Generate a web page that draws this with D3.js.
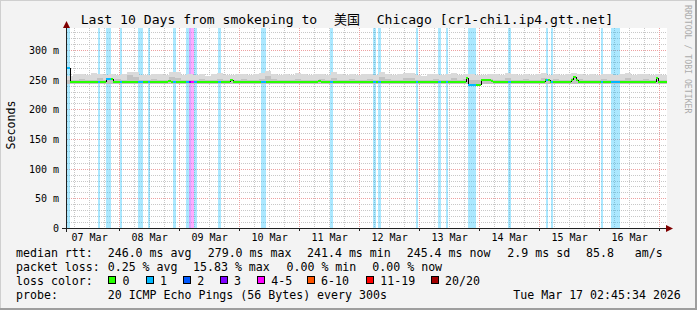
<!DOCTYPE html>
<html><head><meta charset="utf-8">
<script src="https://cdn.jsdelivr.net/npm/d3@7"></script>
<style>body{margin:0;background:#f3f3f3}svg{display:block}text{white-space:pre}</style>
</head><body>
<svg id="c" width="697" height="310"></svg>
<script>
// ---------- data ----------
const titleLeft = "Last 10 Days from smokeping to";
const titleMid = "美国";
const titleRight = "Chicago [cr1-chi1.ip4.gtt.net]";
const lossLevels = ["0","1","2","3","4-5","6-10","11-19","20/20"];
const lossColors = ["#26ff00","#00b8ff","#0059ff","#7e00ff","#ff00ff","#ff5500","#ff0000","#a10000"];
const yTicks = [0,50,100,150,200,250,300];
const yTickLabels = ["0","50 m","100 m","150 m","200 m","250 m","300 m"];
const dayTicks = ["03-07","03-08","03-09","03-10","03-11","03-12","03-13","03-14","03-15","03-16"];
const dayLabels = ["07 Mar","08 Mar","09 Mar","10 Mar","11 Mar","12 Mar","13 Mar","14 Mar","15 Mar","16 Mar"];

// loss periods (UTC, 2026) and loss level index
const lossStart = ["03-07 02:50","03-07 15:10","03-07 18:22","03-07 23:58","03-08 07:10","03-08 11:10","03-08 21:10",
  "03-09 02:22","03-09 03:34","03-09 04:22","03-09 05:34","03-09 15:10","03-10 08:22","03-11 11:58","03-12 05:10",
  "03-12 07:10","03-12 22:22","03-13 07:10","03-13 10:22","03-13 19:10","03-14 11:10","03-15 02:22","03-15 04:22",
  "03-16 00:22","03-16 04:22"];
const lossEnd = ["03-07 03:58","03-07 15:58","03-07 20:22","03-08 00:46","03-08 09:10","03-08 11:58","03-08 22:22",
  "03-09 03:34","03-09 04:22","03-09 05:34","03-09 06:46","03-09 16:22","03-10 10:22","03-11 13:10","03-12 06:22",
  "03-12 08:22","03-12 23:10","03-13 08:22","03-13 11:10","03-13 22:22","03-14 12:22","03-15 03:10","03-15 05:10",
  "03-16 01:10","03-16 07:58"];
const lossLevel = [1,1,1,1,1,1,1, 1,3,4,1,1,1,1,1, 1,1,1,1,1,1,1,1, 1,1];

// median rtt (ms), step values holding from each time to the next
const medianTimes = ["03-07 02:45","03-07 03:58","03-07 18:22","03-07 21:10","03-08 19:10","03-08 20:22","03-09 19:58",
  "03-09 21:10","03-11 07:10","03-11 08:22","03-13 18:22","03-13 19:10","03-14 00:22","03-14 04:22","03-14 05:10",
  "03-15 01:58","03-15 03:58","03-15 12:22","03-15 13:10","03-15 14:22","03-15 15:10","03-16 22:22","03-16 23:10"];
const medianValues = [270,246.5,252.5,246.5,248,246.5,250.5,
  246.5,248,246.5,253,242.2,249.8,248,246.5,
  251,246.5,251,254.5,250.5,246.5,253,246.5];

// smoke (ms), 2.4 h bins from the start of the graph
const smokeBottom = 244;
const smokeTop = [
257,260,261,259,262,260,258,261,259,260,
264,263,259,258,260,261,259,264,263,258,
260,259,261,257,260,262,259,258,260,261,
259,260,262,265,261,258,260,259,262,260,
258,260,261,259,263,260,258,261,259,260,
261,259,264,260,258,261,262,262,259,257,
260,261,258,260,262,259,261,260,258,259,
261,260,258,262,260,259,261,258,260,262,
259,261,258,260,262,260,259,261,258,260,
261,259,260,262,258,260,261,259,260,258];
const smokeMid = [
250,251,252,250,251,253,250,251,252,251,
258,256,251,250,252,251,250,255,254,251,
251,250,252,250,251,252,251,250,251,252,
251,250,252,257,252,250,251,250,252,251,
250,251,252,250,253,251,250,252,251,250,
252,251,256,252,250,251,253,254,251,250,
251,252,250,251,253,250,252,251,250,251,
252,251,250,253,251,250,252,250,251,253,
251,252,250,251,254,252,250,251,250,252,
251,250,251,253,250,251,252,250,251,250];

const legendRtt = ["median rtt:","246.0 ms avg","279.0 ms max","241.4 ms min","245.4 ms now","2.9 ms sd","85.8   am/s"];
const legendLoss = ["packet loss:","0.25 % avg","15.83 % max","0.00 % min","0.00 % now"];
const probeText = ["probe:","20 ICMP Echo Pings (56 Bytes) every 300s","Tue Mar 17 02:45:34 2026"];

// ---------- helpers ----------
const T = s => { const [md,hm]=s.split(" "); const [mo,d]=md.split("-").map(Number);
  const [h,mi]=(hm||"00:00").split(":").map(Number); return new Date(Date.UTC(2026,mo-1,d,h,mi,0)); };
const tStart = new Date(Date.UTC(2026,2,7,2,45,34));
const tEnd = new Date(Date.UTC(2026,2,17,2,45,34));

const svg = d3.select("#c");
const MONO = "DejaVu Sans Mono";
const x = d3.scaleUtc().domain([tStart,tEnd]).range([66.5,666.5]);
const y = d3.scaleLinear().domain([0,337]).range([228.5,28.5]);
const px = v => Math.floor(v)+0.5;

// background & frame
svg.append("rect").attr("width",697).attr("height",310).attr("fill","#f3f3f3");
svg.append("path").attr("d","M0,309V0H697").attr("stroke","#cfcfcf").attr("stroke-width",2).attr("fill","none");
svg.append("path").attr("d","M0,309H696V0").attr("stroke","#9e9e9e").attr("stroke-width",2).attr("fill","none");

// canvas
svg.append("rect").attr("x",67).attr("y",28).attr("width",600).attr("height",200).attr("fill","#fff");

const g = svg.append("g").attr("shape-rendering","crispEdges");
// horizontal grid
d3.range(10,337,10).forEach(v=>{
  const major = v%50===0;
  g.append("line").attr("x1",67).attr("x2",667).attr("y1",px(y(v))).attr("y2",px(y(v)))
   .attr("stroke",major?"#eda0a0":"#c8c8c8").attr("stroke-dasharray","1,1");
});
// vertical grid
d3.utcHour.every(6).range(tStart,tEnd).forEach(t=>{
  const major = t.getUTCHours()===0;
  g.append("line").attr("x1",px(x(t))).attr("x2",px(x(t))).attr("y1",28).attr("y2",228)
   .attr("stroke",major?"#eda0a0":"#c8c8c8").attr("stroke-dasharray","1,1");
});

// loss bars
lossStart.forEach((s,i)=>{
  const a=Math.round(x(T(s))), b=Math.round(x(T(lossEnd[i])));
  g.append("rect").attr("x",Math.max(67,a)).attr("y",28).attr("width",b-Math.max(67,a)).attr("height",200)
   .attr("fill",lossColors[lossLevel[i]]).attr("fill-opacity",0.33);
});

// smoke
const bins = smokeTop.map((v,i)=>({t:d3.utcMinute.offset(tStart,i*144), top:v, mid:smokeMid[i]}));
bins.push({t:tEnd, top:smokeTop[smokeTop.length-1], mid:smokeMid[smokeMid.length-1]});
const areaTop = d3.area().curve(d3.curveStepAfter).x(d=>x(d.t)).y0(y(smokeBottom)).y1(d=>Math.round(y(d.top)));
const areaMid = d3.area().curve(d3.curveStepAfter).x(d=>x(d.t)).y0(y(smokeBottom)).y1(d=>Math.round(y(d.mid)));
g.append("path").datum(bins).attr("d",areaTop).attr("fill","#dadada");
g.append("path").datum(bins).attr("d",areaMid).attr("fill","#c2c2c2");

// median line
const mT = medianTimes.map(T);
const medianAt = t => { let v=medianValues[0]; mT.forEach((mt,i)=>{ if(mt<=t) v=medianValues[i]; }); return v; };
const lossAt = t => { let l=0; lossStart.forEach((s,i)=>{ if(T(s)<=t && t<T(lossEnd[i])) l=lossLevel[i]; }); return l; };
for(let i=1;i<mT.length;i++){
  const xx = Math.round(x(mT[i]))+0.5;
  g.append("line").attr("x1",xx).attr("x2",xx).attr("y1",Math.round(y(medianValues[i-1])))
   .attr("y2",Math.round(y(medianValues[i]))).attr("stroke","#000");
}
const breaks = Array.from(new Set([...mT, ...lossStart.map(T), ...lossEnd.map(T), tStart, tEnd].map(d=>+d)))
  .filter(v=>v>=+tStart && v<=+tEnd).sort((a,b)=>a-b);
for(let i=0;i<breaks.length-1;i++){
  const a=new Date(breaks[i]), b=new Date(breaks[i+1]), mid=new Date((breaks[i]+breaks[i+1])/2);
  const yy=Math.round(y(medianAt(mid)));
  g.append("line").attr("x1",Math.max(67,Math.round(x(a)))).attr("x2",Math.round(x(b)))
   .attr("y1",yy).attr("y2",yy).attr("stroke",lossColors[lossAt(mid)]).attr("stroke-width",2);
}

// axes
g.append("line").attr("x1",62).attr("x2",667).attr("y1",228.5).attr("y2",228.5).attr("stroke","#202020");
g.append("line").attr("x1",66.5).attr("x2",66.5).attr("y1",27).attr("y2",232).attr("stroke","#202020");
d3.utcDay.every(1).range(tStart,tEnd).forEach(t=>{
  g.append("line").attr("x1",px(x(t))).attr("x2",px(x(t))).attr("y1",228).attr("y2",231).attr("stroke","#202020");
});
svg.append("path").attr("d","M66.5,21L63,28H70Z").attr("fill","#7f0000");
svg.append("path").attr("d","M673,228.5L666,225V232Z").attr("fill","#7f0000");

// tick labels
yTicks.forEach((v,i)=>{
  svg.append("text").attr("x",59).attr("y",px(y(v))).attr("dy","0.36em").attr("text-anchor","end")
   .attr("font-family",MONO).attr("font-size",10).text(yTickLabels[i]);
});
dayTicks.forEach((d,i)=>{
  svg.append("text").attr("x",x(d3.utcHour.offset(T(d),12))).attr("y",241).attr("text-anchor","middle")
   .attr("font-family",MONO).attr("font-size",10).text(dayLabels[i]);
});

// title
svg.append("text").attr("x",80.7).attr("y",24).attr("font-family",MONO).attr("font-size",13.1).text(titleLeft);
svg.append("text").attr("x",347).attr("y",24).attr("text-anchor","middle").attr("font-family","Noto Sans CJK SC")
  .attr("font-size",13).text(titleMid);
svg.append("text").attr("x",376.7).attr("y",24).attr("font-family",MONO).attr("font-size",13.1).text(titleRight);

// y label
svg.append("text").attr("transform","translate(15,125) rotate(-90)").attr("text-anchor","middle")
  .attr("font-family",MONO).attr("font-size",11.6).text("Seconds");
// watermark
svg.append("text").attr("transform","translate(685,5) rotate(90)").attr("font-family",MONO)
  .attr("font-size",8.2).attr("fill","#ababab").text("RRDTOOL / TOBI OETIKER");

// legend
const fs = 11.6;
const put = (t,xx,yy)=>svg.append("text").attr("x",xx).attr("y",yy).attr("font-family",MONO).attr("font-size",fs).text(t);
[16,107.7,207.7,307,406.7,507.3,586].forEach((xx,i)=>put(legendRtt[i],xx,257.3));
[16,107.7,193,286.5,372.3].forEach((xx,i)=>put(legendLoss[i],xx,271.3));
put("loss color:",16,285.3);
[108.3,145.7,183,219.7,257,306.7,366,430.7].forEach((xx,i)=>{
  svg.append("rect").attr("x",Math.round(xx)+0.5).attr("y",276.5).attr("width",7).attr("height",7)
   .attr("fill",lossColors[i]).attr("stroke","#000").attr("shape-rendering","crispEdges");
  put(lossLevels[i],xx+14.3,285.3);
});
[16,107.7,513.3].forEach((xx,i)=>put(probeText[i],xx,299.3));
</script>
</body></html>
